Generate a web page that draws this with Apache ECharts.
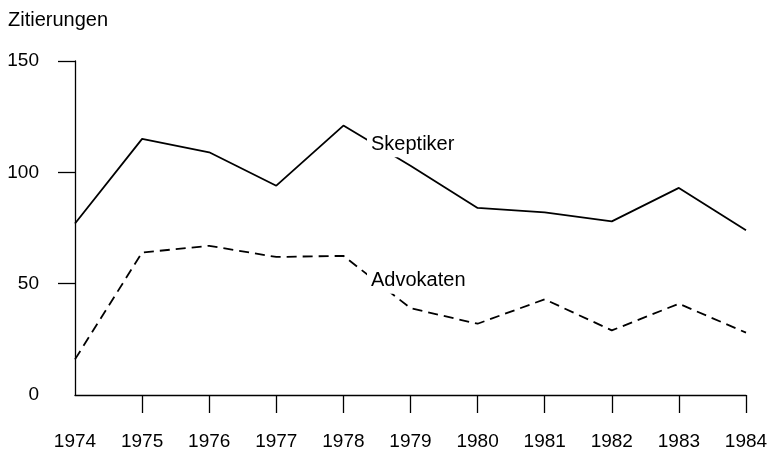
<!DOCTYPE html>
<html>
<head>
<meta charset="utf-8">
<script src="https://cdn.jsdelivr.net/npm/echarts@6/dist/echarts.min.js"></script>
<style>
  html, body { margin: 0; padding: 0; background: #fff; }
  #chart { width: 774px; height: 454px; }
</style>
</head>
<body>
<div id="chart"></div>
<script>
const years = ['1974', '1975', '1976', '1977', '1978', '1979', '1980', '1981', '1982', '1983', '1984'];
const skeptiker = [77, 115, 109, 94, 121, 103, 84, 82, 78, 93, 74];
const advokaten = [16, 64, 67, 62, 62.5, 39, 32, 43, 29, 41, 28];
const yTicks = [50, 100, 150];
const xTicks = years.slice(1);

const font = 'Liberation Sans';

// name label sits on the 1979 point, white box cuts the line
function withLabel(values, idx, text, pos) {
  return values.map((v, i) => i !== idx ? v : {
    value: v,
    label: {
      show: true,
      formatter: text,
      position: pos,
      color: '#000',
      fontFamily: font,
      fontSize: 20,
      backgroundColor: '#fff',
      padding: [3, 4]
    }
  });
}

const myChart = echarts.init(document.getElementById('chart'));
const option = {
  animation: false,
  title: {
    text: 'Zitierungen',
    left: 3,
    top: 5,
    textStyle: { color: '#000', fontFamily: font, fontSize: 20, fontWeight: 'normal' }
  },
  grid: { left: 75, right: 28, top: 61, bottom: 59 },
  xAxis: {
    type: 'category',
    data: years,
    boundaryGap: false,
    axisLine: { lineStyle: { color: '#000', width: 1.3 } },
    axisTick: { length: 18, customValues: xTicks, lineStyle: { color: '#000', width: 1.3 } },
    axisLabel: { margin: 37, color: '#000', fontFamily: font, fontSize: 19 }
  },
  yAxis: {
    type: 'value',
    min: 0,
    max: 150,
    interval: 50,
    splitLine: { show: false },
    axisLine: { show: true, lineStyle: { color: '#000', width: 1.3 } },
    axisTick: { show: true, length: 17, customValues: yTicks, lineStyle: { color: '#000', width: 1.3 } },
    axisLabel: { margin: 36, color: '#000', fontFamily: font, fontSize: 19 }
  },
  series: [
    {
      name: 'Skeptiker',
      type: 'line',
      symbol: 'circle',
      symbolSize: 1,
      itemStyle: { color: 'rgba(0,0,0,0)', borderWidth: 0 },
      lineStyle: { color: '#000', width: 1.8 },
      data: withLabel(skeptiker, 5, 'Skeptiker', [-43, -34])
    },
    {
      name: 'Advokaten',
      type: 'line',
      symbol: 'circle',
      symbolSize: 1,
      itemStyle: { color: 'rgba(0,0,0,0)', borderWidth: 0 },
      lineStyle: { color: '#000', width: 1.8, type: [10, 6] },
      data: withLabel(advokaten, 5, 'Advokaten', [-43, -40])
    }
  ]
};
myChart.setOption(option);
</script>
</body>
</html>
